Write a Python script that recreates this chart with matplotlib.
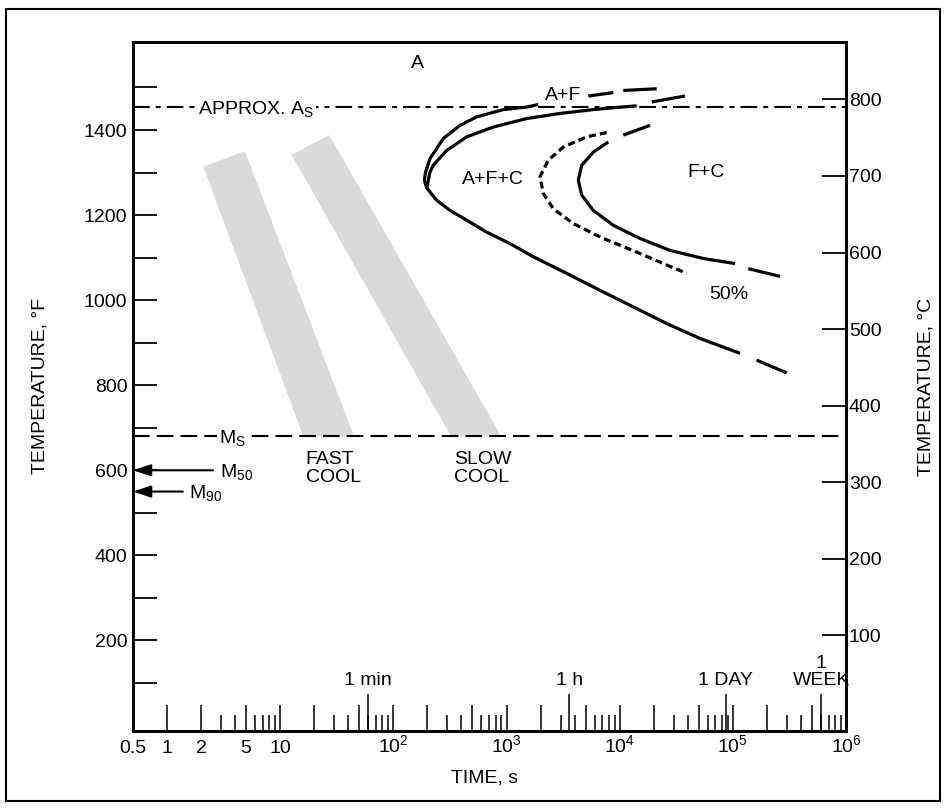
import matplotlib.pyplot as plt
from matplotlib.patches import Rectangle
from matplotlib.ticker import NullLocator

plt.rcParams['font.family'] = ['Liberation Sans', 'DejaVu Sans']
plt.rcParams['font.size'] = 14

# curves: time in s, temperature in deg F
# start of transformation: top branch down through the nose and the lower branch
start_time = [1909, 1507, 936, 545, 388, 276, 211, 192, 188, 197, 241, 317, 444, 667,
              1073, 1725, 3400, 6700, 13200, 26000, 51200, 115600]
start_temp = [1460, 1454, 1448, 1431, 1411, 1380, 1333, 1300, 1282, 1264, 1235, 1211, 1188, 1160,
              1133, 1102, 1063, 1023, 984, 945, 910, 875]
start_dash = [([5279, 8778], [1480, 1488]), ([10760, 21230], [1493, 1497]),
              ([162000, 299000], [859, 829])]

# second upper branch (A+F -> A+F+C)
inner_time = [197, 203, 210, 225, 296, 445, 764, 1507, 2968, 5844, 9408, 14130]
inner_temp = [1264, 1280, 1300, 1317, 1352, 1384, 1407, 1427, 1439, 1448, 1453, 1457]
inner_dash = [([19180, 37770], [1466, 1480])]

# 50 % transformed (dotted)
half_time = [7676, 5110, 3174, 2339, 1975, 2113, 2589, 3890, 7163, 14130, 24290, 39090]
half_temp = [1394, 1384, 1360, 1329, 1290, 1251, 1215, 1180, 1145, 1113, 1086, 1063]

# end of transformation (F+C)
end_time = [7931, 5844, 4616, 4307, 4616, 5844, 8778, 15120, 27830, 54750, 104400]
end_temp = [1372, 1348, 1317, 1282, 1247, 1211, 1176, 1145, 1117, 1098, 1086]
end_dash = [([10760, 18520], [1388, 1411]), ([136900, 261000], [1074, 1056])]

# cooling bands
fast_time = [2.09, 4.88, 44.9, 16.0]
fast_temp = [1314, 1350, 680, 680]
slow_time = [12.6, 27.2, 897, 323]
slow_temp = [1342, 1388, 680, 680]

as_temp = 1455
ms_temp = 680
m50_temp = 600
m90_temp = 550

region_labels = ['A', 'A+F', 'A+F+C', 'F+C', '50%', 'FAST\nCOOL', 'SLOW\nCOOL']
region_time = [162, 3155, 754, 57900, 91200, 16.8, 344]
region_temp = [1556, 1482, 1284, 1299, 1013, 604, 604]

major_x = [0.5, 1, 2, 5, 10, 20, 50, 100, 200, 500, 1e3, 2e3, 5e3, 1e4, 2e4, 5e4,
           1e5, 2e5, 5e5, 1e6]
major_x_labels = ['0.5', '1', '2', '5', '10', '', '', r'$\mathregular{10^2}$', '', '',
                  r'$\mathregular{10^3}$', '', '', r'$\mathregular{10^4}$', '', '',
                  r'$\mathregular{10^5}$', '', '', r'$\mathregular{10^6}$']
minor_x = [m * 10 ** d for d in range(0, 6) for m in (3, 4, 6, 7, 8, 9)]
special_x = [60, 3600, 86400, 604800]
special_labels = ['1 min', '1 h', '1 DAY', '1\nWEEK']

f_ticks = list(range(100, 1600, 100))
c_ticks = list(range(100, 900, 100))


def f2c(f):
    return (f - 32) / 1.8


fig = plt.figure(figsize=(9.49, 8.09), dpi=100)
ax = fig.add_axes([0.1401, 0.0964, 0.7514, 0.8517])
ax.set_xscale('log')
ax.set_xlim(0.5, 1e6)
ax.set_ylim(-13, 1607)

ax.fill(fast_time, fast_temp, color='#dadada', lw=0, zorder=1)
ax.fill(slow_time, slow_temp, color='#dadada', lw=0, zorder=1)

lw = 2.3
ax.plot(start_time, start_temp, color='black', lw=lw, solid_capstyle='butt')
ax.plot(inner_time, inner_temp, color='black', lw=lw, solid_capstyle='butt')
ax.plot(end_time, end_temp, color='black', lw=lw, solid_capstyle='butt')
ax.plot(half_time, half_temp, color='black', lw=lw, linestyle=(0, (2.2, 1.3)))
for seg in start_dash + inner_dash + end_dash:
    ax.plot(seg[0], seg[1], color='black', lw=lw, solid_capstyle='butt')

ax.axhline(as_temp, color='black', lw=1.5, dashes=(8, 2.9, 2.4, 2.9), zorder=3)
ax.axhline(ms_temp, color='black', lw=1.5, dashes=(8, 3.4), zorder=3)

ax.annotate(r'APPROX. $\mathregular{A_S}$', xy=(1.89, as_temp), xytext=(0, -5),
            textcoords='offset points', ha='left', va='baseline',
            bbox=dict(fc='white', ec='none', pad=1.5), zorder=4)
ax.annotate(r'$\mathregular{M_S}$', xy=(2.89, ms_temp), xytext=(0, -5),
            textcoords='offset points', ha='left', va='baseline',
            bbox=dict(fc='white', ec='none', pad=1.5), zorder=4)

arrow = dict(arrowstyle='-|>,head_length=0.6,head_width=0.2', color='black', lw=1.5,
             mutation_scale=18, shrinkA=0, shrinkB=0)
ax.annotate('', xy=(0.5, m50_temp), xytext=(2.55, m50_temp), arrowprops=arrow)
ax.annotate('', xy=(0.5, m90_temp), xytext=(1.38, m90_temp), arrowprops=arrow)
ax.annotate(r'$\mathregular{M_{50}}$', xy=(2.95, m50_temp), xytext=(0, -5),
            textcoords='offset points', ha='left', va='baseline')
ax.annotate(r'$\mathregular{M_{90}}$', xy=(1.56, m90_temp), xytext=(0, -5),
            textcoords='offset points', ha='left', va='baseline')

for lab, t, f in zip(region_labels, region_time, region_temp):
    if 'COOL' in lab:
        ax.text(t, f, lab, ha='left', va='center', linespacing=1.05)
    else:
        ax.text(t, f, lab, ha='center', va='center')

for t, lab in zip(special_x, special_labels):
    ax.annotate(lab, xy=(t, 0), xycoords=('data', 'axes fraction'), xytext=(0, 30),
                textcoords='offset points', ha='center', va='bottom', linespacing=1.0)

# x axis ticks
ax.set_xticks(major_x, labels=major_x_labels)
ax.set_xticks(minor_x, minor=True)
ax.tick_params(axis='x', which='major', direction='in', length=18.7, width=1.1, pad=15.5)
ax.tick_params(axis='x', which='minor', direction='in', length=11.5, width=1.1)
sec = ax.secondary_xaxis('bottom')
sec.set_xticks(special_x, labels=[''] * len(special_x))
sec.xaxis.set_minor_locator(NullLocator())
sec.tick_params(axis='x', direction='in', length=27, width=1.1)

# left axis
ax.set_yticks(f_ticks, labels=[str(v) if v % 200 == 0 else '' for v in f_ticks])
ax.yaxis.set_minor_locator(NullLocator())
ax.tick_params(axis='y', direction='in', length=17, width=1.3, pad=4)
ax.set_ylabel('TEMPERATURE, °F')
ax.yaxis.set_label_coords(-0.119, 0.5)
ax.set_xlabel('TIME, s')
ax.xaxis.set_label_coords(0.493, -0.056)

# right axis in deg C
ax2 = ax.twinx()
ax2.set_ylim(f2c(-13), f2c(1607))
ax2.set_yticks(c_ticks, labels=[str(v) for v in c_ticks])
ax2.tick_params(axis='y', direction='in', length=17, width=1.3, pad=2)
ax2.set_ylabel('TEMPERATURE, °C')
ax2.yaxis.set_label_coords(1.1, 0.5)

for a in (ax, ax2):
    for s in a.spines.values():
        s.set_linewidth(2.0)
sec.spines['bottom'].set_linewidth(2.0)

for lab in ax.get_xticklabels():
    lab.set_verticalalignment('baseline')

fig.patches.append(Rectangle((0.0063, 0.0099), 0.984, 0.979, transform=fig.transFigure,
                             fill=False, lw=1.5, ec='black'))

fig.savefig('out.png', dpi=100)
